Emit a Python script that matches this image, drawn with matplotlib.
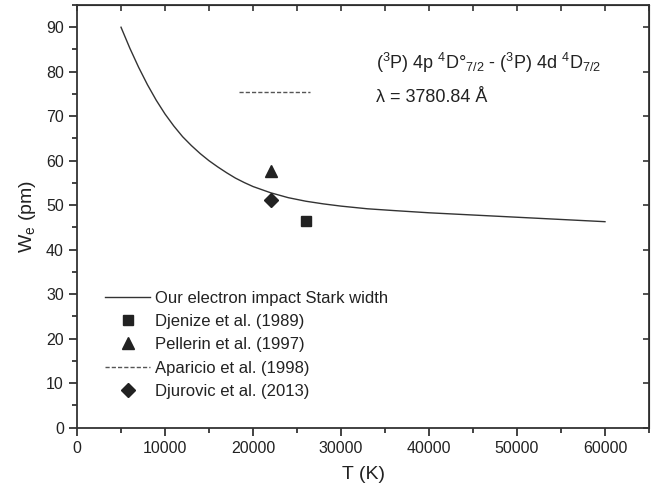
import matplotlib
matplotlib.use("Agg")
import matplotlib.pyplot as plt
from matplotlib.ticker import MultipleLocator

plt.rcParams['font.family'] = ['Liberation Sans', 'DejaVu Sans']
plt.rcParams['mathtext.fontset'] = 'custom'
plt.rcParams['mathtext.rm'] = 'Liberation Sans'
plt.rcParams['mathtext.it'] = 'Liberation Sans:italic'

# Theory curve (our electron impact Stark width)
T_theory = [5000, 6000, 7000, 8000, 9000, 10000, 11000, 12000, 13000, 14000,
            15000, 16000, 17000, 18000, 19000, 20000, 22000, 24000, 26000,
            28000, 30000, 33000, 36000, 40000, 45000, 50000, 55000, 60000]
W_theory = [90.0, 85.3, 81.0, 77.1, 73.6, 70.5, 67.8, 65.4, 63.4, 61.6,
            60.0, 58.6, 57.3, 56.1, 55.1, 54.2, 52.8, 51.7, 50.9,
            50.3, 49.8, 49.2, 48.8, 48.3, 47.8, 47.3, 46.8, 46.3]

# Experimental data
T_djenize = [26000]
W_djenize = [46.4]
T_pellerin = [22000]
W_pellerin = [57.8]
T_aparicio = [18400, 26500]
W_aparicio = [75.4, 75.4]
T_djurovic = [22000]
W_djurovic = [51.1]

labels = ["Our electron impact Stark width", "Djenize et al. (1989)",
          "Pellerin et al. (1997)", "Aparicio et al. (1998)",
          "Djurovic et al. (2013)"]

fig = plt.figure(figsize=(6.6, 4.94), dpi=100)
ax = fig.add_axes([0.1167, 0.1342, 0.8666, 0.8557])

dark = '#222222'
ax.plot(T_theory, W_theory, '-', color='#333333', lw=1.0, label=labels[0])
ax.plot(T_djenize, W_djenize, 's', color=dark, ms=7, ls='none', label=labels[1])
ax.plot(T_pellerin, W_pellerin, '^', color=dark, ms=9, ls='none', label=labels[2])
ax.plot(T_aparicio, W_aparicio, color='#555555', lw=1.0, ls=(0, (3, 1.5)), label=labels[3])
ax.plot(T_djurovic, W_djurovic, 'D', color=dark, ms=7, ls='none', label=labels[4])

ax.set_xlim(0, 65000)
ax.set_ylim(0, 95)
ax.xaxis.set_major_locator(MultipleLocator(10000))
ax.xaxis.set_minor_locator(MultipleLocator(5000))
ax.yaxis.set_major_locator(MultipleLocator(10))
ax.yaxis.set_minor_locator(MultipleLocator(5))
ax.tick_params(axis='both', which='major', direction='out', length=6, width=1.2,
               labelsize=11.5, colors='#222222')
ax.tick_params(axis='both', which='minor', direction='out', length=3.5, width=1.2,
               colors='#222222')
for s in ax.spines.values():
    s.set_linewidth(1.3)
    s.set_color('#333333')

# inward ticks on top and right
top = ax.secondary_xaxis('top')
top.set_xticks(range(0, 65001, 5000))
top.tick_params(direction='in', length=4, width=1.2, labeltop=False, colors='#333333')
top.set_xticklabels([])
right = ax.secondary_yaxis('right')
right.set_yticks(range(0, 91, 10))
right.tick_params(direction='in', length=4, width=1.2, labelright=False, colors='#333333')
right.set_yticklabels([])

ax.set_xlabel('T (K)', fontsize=14, color='#222222', labelpad=7)
ax.set_ylabel(r'W$_\mathregular{e}$ (pm)', fontsize=14, color='#222222', labelpad=6)

ax.text(34000, 82.0,
        r'($^\mathregular{3}$P) 4p $^\mathregular{4}$D°$_\mathregular{7/2}$ - '
        r'($^\mathregular{3}$P) 4d $^\mathregular{4}$D$_\mathregular{7/2}$',
        fontsize=13, color='#222222', va='center', ha='left')
ax.text(34000, 74.1, 'λ = 3780.84 Å', fontsize=13, color='#222222',
        va='center', ha='left')

leg = ax.legend(loc='upper left', bbox_to_anchor=(0.0375, 0.34), frameon=False,
                fontsize=12, handlelength=2.7, handletextpad=0.3,
                labelspacing=0.5, borderaxespad=0)
for t in leg.get_texts():
    t.set_color('#222222')

fig.savefig('out.png', dpi=100)
